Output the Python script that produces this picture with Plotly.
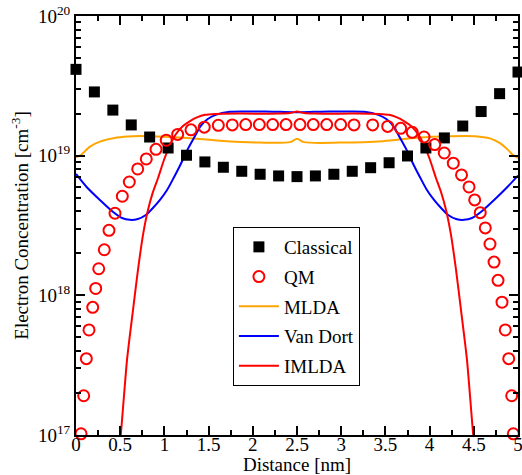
import plotly.graph_objects as go

# ---- data ----
classical_x = [0, 0.208, 0.417, 0.625, 0.833, 1.042, 1.25, 1.458, 1.667, 1.875, 2.083, 2.292, 2.5,
               2.708, 2.917, 3.125, 3.333, 3.542, 3.75, 3.958, 4.167, 4.375, 4.583, 4.792, 5.0]
classical_y = [4.15e19, 2.86e19, 2.12e19, 1.66e19, 1.36e19, 1.135e19, 1.007e19, 9.02e18, 8.26e18, 7.73e18,
               7.36e18, 7.16e18, 7.08e18, 7.16e18, 7.36e18, 7.73e18, 8.2e18, 8.9e18, 9.95e18, 1.135e19,
               1.34e19, 1.63e19, 2.07e19, 2.78e19, 3.97e19]

qm_x = [0.057, 0.087, 0.117, 0.147, 0.189, 0.223, 0.257, 0.320, 0.373, 0.441, 0.524, 0.603, 0.698, 0.795,
        0.905, 1.021, 1.150, 1.301, 1.451, 1.610, 1.768, 1.920, 2.074, 2.225, 2.376, 2.534, 2.684, 2.836,
        2.994, 3.145, 3.356, 3.526, 3.673, 3.804, 3.937, 4.058, 4.166, 4.268, 4.361, 4.446, 4.510, 4.573,
        4.630, 4.683, 4.729, 4.774, 4.819, 4.856, 4.895, 4.929, 4.947]
qm_y = [1.02e17, 1.91e17, 3.52e17, 5.65e17, 8.2e17, 1.12e18, 1.55e18, 2.12e18, 2.92e18, 3.87e18, 5.12e18,
        6.48e18, 8.03e18, 9.47e18, 1.11e19, 1.29e19, 1.42e19, 1.53e19, 1.60e19,
        1.65e19, 1.66e19, 1.67e19, 1.67e19, 1.67e19, 1.67e19, 1.67e19, 1.67e19, 1.67e19, 1.67e19, 1.66e19,
        1.66e19, 1.62e19, 1.57e19, 1.47e19, 1.36e19, 1.20e19, 1.045e19, 8.83e18, 7.28e18, 5.97e18, 4.82e18,
        3.91e18, 3.04e18, 2.33e18, 1.73e18, 1.28e18, 8.93e17, 5.65e17, 3.52e17, 1.91e17, 1.02e17]

mlda_x = [0, 0.045, 0.158, 0.271, 0.464, 0.645, 0.837, 1.176, 1.629, 2.081, 2.421, 2.5, 2.579, 2.986,
          3.473, 3.857, 4.231, 4.514, 4.683, 4.796, 4.887, 4.943, 5.0]
mlda_y = [9.79e18, 1.00e19, 1.16e19, 1.26e19, 1.35e19, 1.38e19, 1.38e19, 1.35e19, 1.28e19, 1.24e19,
          1.25e19, 1.32e19, 1.25e19, 1.24e19, 1.27e19, 1.345e19, 1.38e19, 1.38e19, 1.33e19, 1.23e19,
          1.10e19, 1.01e19, 9.63e18]

vandort_x = [0, 0.12, 0.27, 0.42, 0.52, 0.61, 0.70, 0.79, 0.87, 0.95, 1.03, 1.11, 1.18, 1.26, 1.34, 1.41,
             1.49, 1.58, 1.74, 1.97, 2.14, 2.31, 2.5, 2.69, 2.86, 3.03, 3.26, 3.42, 3.51, 3.59, 3.66, 3.74,
             3.82, 3.89, 3.97, 4.05, 4.13, 4.21, 4.30, 4.39, 4.48, 4.58, 4.73, 4.88, 5.0]
vandort_y = [7.4e18, 5.97e18, 4.82e18, 3.95e18, 3.58e18, 3.47e18, 3.52e18, 3.76e18, 4.22e18, 4.82e18,
             5.68e18, 7.04e18, 8.58e18, 1.10e19, 1.36e19, 1.63e19, 1.83e19, 1.96e19, 2.06e19, 2.07e19,
             2.07e19, 2.06e19, 2.05e19, 2.06e19, 2.07e19, 2.07e19, 2.06e19, 1.96e19, 1.83e19, 1.63e19,
             1.36e19, 1.10e19, 8.58e18, 7.04e18, 5.68e18, 4.82e18, 4.22e18, 3.76e18, 3.52e18, 3.47e18,
             3.58e18, 3.95e18, 4.82e18, 5.97e18, 7.2e18]

imlda_x = [0.495, 0.506, 0.577, 0.645, 0.701, 0.758, 0.814, 0.871, 0.928, 0.995, 1.063, 1.131, 1.210,
           1.290, 1.369, 1.459, 1.572, 1.855, 2.308, 2.421, 2.5, 2.579, 2.692, 3.145, 3.428, 3.541, 3.631,
           3.710, 3.790, 3.869, 3.937, 4.005, 4.072, 4.129, 4.186, 4.242, 4.299, 4.355, 4.423, 4.494, 4.505]
imlda_y = [9e16, 1.0e17, 3.45e17, 7.86e17, 1.52e18, 2.71e18, 4.08e18, 5.50e18, 6.92e18, 9.31e18, 1.19e19,
           1.43e19, 1.63e19, 1.77e19, 1.88e19, 1.96e19, 1.99e19, 2.00e19, 2.00e19, 2.02e19, 2.07e19,
           2.02e19, 2.00e19, 2.00e19, 1.99e19, 1.96e19, 1.88e19, 1.77e19, 1.63e19, 1.43e19, 1.19e19,
           9.31e18, 6.92e18, 5.50e18, 4.08e18, 2.71e18, 1.52e18, 7.86e17, 3.45e17, 1.0e17, 9e16]

x_tickvals = [0, 0.5, 1, 1.5, 2, 2.5, 3, 3.5, 4, 4.5, 5]
x_ticktext = ["0", "0.5", "1", "1.5", "2", "2.5", "3", "3.5", "4", "4.5", "5"]
y_tickvals = [1e17, 1e18, 1e19, 1e20]
y_ticktext = ["10<sup>17</sup>", "10<sup>18</sup>", "10<sup>19</sup>", "10<sup>20</sup>"]

FONT = "Liberation Serif, Times New Roman, serif"

fig = go.Figure()
fig.add_trace(go.Scatter(x=mlda_x, y=mlda_y, mode="lines", name="MLDA", legendrank=3, legendgroup="c",
                         line=dict(color="#FFA500", width=2, shape="spline", smoothing=0.8)))
fig.add_trace(go.Scatter(x=vandort_x, y=vandort_y, mode="lines", name="Van Dort", legendrank=4, legendgroup="d",
                         line=dict(color="#0000FF", width=2, shape="spline", smoothing=0.8)))
fig.add_trace(go.Scatter(x=imlda_x, y=imlda_y, mode="lines", name="IMLDA", legendrank=5, legendgroup="e",
                         line=dict(color="#FF0000", width=2, shape="spline", smoothing=0.6)))
fig.add_trace(go.Scatter(x=classical_x, y=classical_y, mode="markers", name="Classical", legendrank=1,
                         legendgroup="a", cliponaxis=False,
                         marker=dict(symbol="square", size=11, color="black")))
fig.add_trace(go.Scatter(x=qm_x, y=qm_y, mode="markers", name="QM", legendrank=2, legendgroup="b",
                         cliponaxis=False,
                         marker=dict(symbol="circle-open", size=11, color="#FF0000", line=dict(width=2, color="#FF0000"))))

axis_common = dict(showline=True, linecolor="black", linewidth=2, mirror="allticks", ticks="inside",
                   tickcolor="black", tickwidth=2, showgrid=False, zeroline=False,
                   ticklabeloverflow="allow",
                   tickfont=dict(family=FONT, size=19, color="black"))

fig.update_xaxes(range=[0, 5], tickmode="array", tickvals=x_tickvals, ticktext=x_ticktext, ticklen=9,
                 ticklabelstandoff=-9,
                 minor=dict(ticks="inside", ticklen=5, tickwidth=2, tickcolor="black", dtick=0.25, showgrid=False),
                 title=dict(text="Distance [nm]", font=dict(family=FONT, size=19, color="black"), standoff=2),
                 automargin=False, **axis_common)
fig.update_yaxes(type="log", range=[17, 20], tickmode="array", tickvals=y_tickvals, ticktext=y_ticktext,
                 ticklen=9,
                 minor=dict(ticks="inside", ticklen=5, tickwidth=2, tickcolor="black", dtick="D1",
                            showgrid=False),
                 title=dict(text="Electron Concentration [cm<sup>-3</sup>]",
                            font=dict(family=FONT, size=19, color="black"), standoff=4),
                 automargin=False, **axis_common)

fig.update_layout(
    width=522, height=475,
    margin=dict(l=76, r=4, t=16, b=40),
    paper_bgcolor="white", plot_bgcolor="white",
    font=dict(family=FONT, size=19, color="black"),
    showlegend=True,
    legend=dict(x=0.355, y=0.4964, xanchor="left", yanchor="top", bgcolor="white",
                bordercolor="black", borderwidth=1, traceorder="grouped", tracegroupgap=2,
                itemwidth=40, font=dict(family=FONT, size=19, color="black")),
)

fig.write_html("out.html", config={"displayModeBar": False},
               post_script="document.body.style.margin='0';document.body.style.padding='0';")
